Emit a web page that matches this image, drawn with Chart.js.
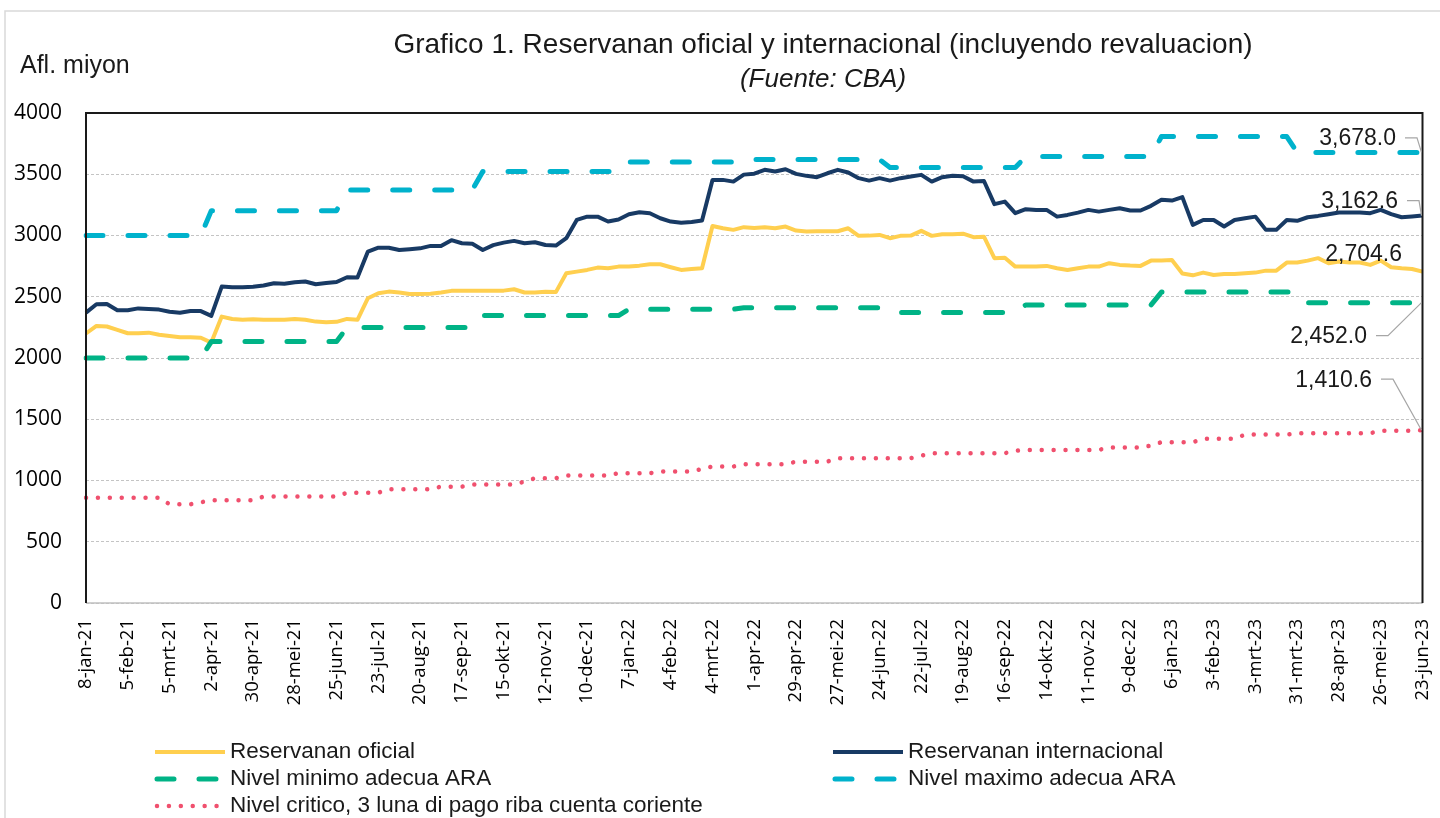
<!DOCTYPE html>
<html>
<head>
<meta charset="utf-8">
<script src="https://cdn.jsdelivr.net/npm/chart.js@4.4.0/dist/chart.umd.min.js"></script>
<style>
  html, body { margin: 0; padding: 0; background: #fff; }
  #wrap { width: 1440px; height: 818px; position: relative; }
</style>
</head>
<body>
<div id="wrap"><canvas id="chart" width="1440" height="818"></canvas></div>
<script>
// weekly dates 8-jan-21 .. 23-jun-23 (129 weeks)
const monthNames = ['jan','feb','mrt','apr','mei','jun','jul','aug','sep','okt','nov','dec'];
const categories = [];
for (let i = 0; i < 129; i++) {
  const d = new Date(Date.UTC(2021, 0, 8) + i * 7 * 86400000);
  categories.push(d.getUTCDate() + '-' + monthNames[d.getUTCMonth()] + '-' + String(d.getUTCFullYear()).slice(2));
}

const yTicks = [0, 500, 1000, 1500, 2000, 2500, 3000, 3500, 4000];

const oficial = [
  2200,2262,2257,2230,2202,2202,2207,2190,2180,2170,
  2170,2165,2126,2338,2318,2312,2316,2313,2312,2312,
  2318,2312,2297,2292,2295,2319,2312,2488,2529,2542,
  2535,2523,2523,2525,2535,2548,2550,2550,2550,2550,
  2550,2561,2535,2534,2540,2538,2692,2705,2719,2738,
  2733,2746,2746,2754,2765,2765,2741,2719,2727,2733,
  3078,3059,3046,3068,3062,3068,3060,3073,3040,3032,
  3035,3035,3035,3059,2997,2999,3005,2978,2997,2999,
  3038,2997,3010,3010,3015,2986,2990,2815,2818,2746,
  2746,2746,2752,2733,2719,2733,2746,2746,2774,2760,
  2755,2752,2795,2795,2800,2690,2675,2697,2678,2686,
  2686,2692,2697,2713,2713,2779,2779,2795,2815,2774,
  2787,2779,2779,2760,2795,2741,2733,2727,2704.6
];

const internacional = [
  2370,2439,2440,2390,2390,2405,2400,2395,2378,2370,
  2384,2383,2344,2583,2577,2578,2582,2592,2610,2606,
  2618,2624,2602,2612,2620,2659,2657,2869,2901,2900,
  2882,2888,2895,2915,2915,2962,2937,2932,2882,2921,
  2942,2956,2937,2945,2922,2918,2978,3127,3154,3154,
  3114,3131,3174,3190,3182,3141,3114,3105,3110,3122,
  3454,3454,3440,3497,3505,3536,3522,3541,3503,3487,
  3476,3508,3536,3514,3468,3448,3468,3448,3468,3481,
  3495,3440,3476,3487,3483,3440,3445,3256,3277,3182,
  3215,3209,3209,3154,3168,3187,3209,3195,3209,3222,
  3204,3204,3242,3291,3285,3313,3087,3127,3127,3073,
  3127,3141,3154,3046,3046,3127,3120,3149,3160,3174,
  3187,3187,3187,3182,3209,3174,3149,3155,3162.6
];

const nivelMinimo = [
  2000,2000,2000,2000,2000,2000,2000,2000,2000,2000,
  2000,2000,2134,2134,2134,2134,2134,2134,2134,2134,
  2134,2134,2134,2134,2134,2248,2248,2248,2248,2248,
  2248,2248,2248,2248,2248,2248,2248,2248,2346,2346,
  2346,2346,2346,2346,2346,2346,2346,2346,2346,2346,
  2346,2346,2398,2398,2398,2398,2398,2398,2398,2398,
  2398,2398,2398,2410,2410,2410,2410,2410,2410,2410,
  2410,2410,2410,2410,2410,2410,2410,2371,2371,2371,
  2371,2371,2371,2371,2371,2371,2371,2371,2371,2371,
  2433,2433,2433,2433,2433,2433,2433,2433,2433,2433,
  2433,2433,2433,2538,2538,2538,2538,2538,2538,2538,
  2538,2538,2538,2538,2538,2538,2538,2452,2452,2452,
  2452,2452,2452,2452,2452,2452,2452,2452,2452.0
];

const nivelMaximo = [
  3000,3000,3000,3000,3000,3000,3000,3000,3000,3000,
  3000,3000,3203,3203,3203,3203,3203,3203,3203,3203,
  3203,3203,3203,3203,3203,3372,3372,3372,3372,3372,
  3372,3372,3372,3372,3372,3372,3372,3372,3522,3522,
  3522,3522,3522,3522,3522,3522,3522,3522,3522,3522,
  3522,3522,3600,3600,3600,3600,3600,3600,3600,3600,
  3600,3600,3600,3620,3620,3620,3620,3620,3620,3620,
  3620,3620,3620,3620,3620,3620,3620,3555,3555,3555,
  3555,3555,3555,3555,3555,3555,3555,3555,3555,3555,
  3644,3644,3644,3644,3644,3644,3644,3644,3644,3644,
  3644,3644,3644,3808,3808,3808,3808,3808,3808,3808,
  3808,3808,3808,3808,3808,3808,3678,3678,3678,3678,
  3678,3678,3678,3678,3678,3678,3678,3678,3678.0
];

const nivelCritico = [
  860,860,860,860,860,860,860,860,806,806,
  806,822,839,839,839,839,839,869,869,869,
  869,869,869,869,869,901,901,901,901,929,
  929,929,929,929,950,950,950,967,967,967,
  967,967,991,1019,1019,1019,1040,1040,1040,1040,
  1040,1060,1060,1060,1060,1073,1073,1073,1073,1095,
  1114,1114,1114,1133,1133,1133,1133,1133,1154,1154,
  1154,1154,1182,1182,1182,1182,1182,1182,1182,1182,
  1203,1223,1223,1223,1223,1223,1223,1223,1223,1242,
  1250,1250,1250,1250,1250,1250,1250,1250,1269,1269,
  1269,1269,1285,1313,1313,1313,1313,1340,1340,1340,
  1340,1375,1375,1375,1375,1375,1386,1386,1386,1386,
  1386,1386,1386,1386,1407,1407,1407,1407,1410.6
];

const seriesNames = [
  'Reservanan oficial',
  'Reservanan internacional',
  'Nivel minimo adecua ARA',
  'Nivel maximo adecua ARA',
  'Nivel critico, 3 luna di pago riba cuenta coriente'
];

const labelFont = '"Liberation Sans", Arial, sans-serif';
const tickFont = '"Open Sans", "Noto Sans", sans-serif';

// styles per series (same order as seriesNames)
const styles = [
  { color: '#FFCF4F', width: 4, dash: [], order: 5 },
  { color: '#183A64', width: 4, dash: [], order: 4 },
  { color: '#00B386', width: 5, dash: [17, 25], order: 3 },
  { color: '#00B2CC', width: 5, dash: [17, 25], order: 2 },
  { color: '#F0506E', width: 4.5, dash: [0.01, 11.9], order: 1 }
];

// end-of-series value labels: right edge / centre offset from last point, with leader line or not
const endLabels = [
  { dx: -20.5, dy: -17, leader: false },
  { dx: -24.5, dy: -14, leader: true },
  { dx: -55.5, dy: 34, leader: true },
  { dx: -26.5, dy: -13.5, leader: true },
  { dx: -50.5, dy: -50, leader: true }
];

// legend placement: [x of sample start, y centre]
const legendSpots = [[155, 752], [833, 752], [155, 779], [833, 779], [155, 806]];

const allData = [oficial, internacional, nivelMinimo, nivelMaximo, nivelCritico];

const decor = {
  id: 'decor',
  beforeDraw(chart) {
    const ctx = chart.ctx;
    ctx.save();
    ctx.fillStyle = '#fff';
    ctx.fillRect(0, 0, chart.width, chart.height);
    ctx.strokeStyle = '#d9d9d9';
    ctx.lineWidth = 1.5;
    ctx.beginPath();
    ctx.moveTo(5, chart.height);
    ctx.lineTo(5, 11);
    ctx.lineTo(chart.width, 11);
    ctx.stroke();
    ctx.restore();
  },
  afterDraw(chart) {
    const ctx = chart.ctx;
    const a = chart.chartArea;
    ctx.save();

    // plot frame
    ctx.strokeStyle = '#bfbfbf';
    ctx.lineWidth = 1.5;
    ctx.beginPath();
    ctx.moveTo(a.left, a.bottom);
    ctx.lineTo(a.right, a.bottom);
    ctx.stroke();
    ctx.strokeStyle = '#1a1a1a';
    ctx.lineWidth = 2;
    ctx.beginPath();
    ctx.moveTo(a.left, a.bottom);
    ctx.lineTo(a.left, a.top);
    ctx.lineTo(a.right, a.top);
    ctx.lineTo(a.right, a.bottom);
    ctx.stroke();

    // titles
    ctx.fillStyle = '#1a1a1a';
    ctx.textBaseline = 'middle';
    ctx.textAlign = 'center';
    ctx.font = '28px ' + labelFont;
    ctx.fillText('Grafico 1. Reservanan oficial y internacional (incluyendo revaluacion)', 823, 45);
    ctx.font = 'italic 26px ' + labelFont;
    ctx.fillText('(Fuente: CBA)', 823, 80);
    ctx.textAlign = 'left';
    ctx.font = '25px ' + labelFont;
    ctx.fillText('Afl. miyon', 20, 66);

    // end labels
    ctx.font = '23px ' + labelFont;
    chart.data.datasets.forEach((ds, i) => {
      const pts = chart.getDatasetMeta(i).data;
      const p = pts[pts.length - 1];
      const cfg = endLabels[i];
      const right = p.x + cfg.dx;
      const cy = p.y + cfg.dy;
      const val = ds.data[ds.data.length - 1];
      ctx.fillStyle = '#1a1a1a';
      ctx.textAlign = 'right';
      ctx.fillText(val.toLocaleString('en-US', { minimumFractionDigits: 1, maximumFractionDigits: 1 }), right, cy);
      if (cfg.leader) {
        ctx.strokeStyle = '#a6a6a6';
        ctx.lineWidth = 1.2;
        ctx.beginPath();
        ctx.moveTo(right + 9, cy - 1);
        ctx.lineTo(right + 21, cy - 1);
        ctx.lineTo(p.x - 1, p.y);
        ctx.stroke();
      }
    });

    // legend
    ctx.font = '22.5px ' + labelFont;
    ctx.textAlign = 'left';
    seriesNames.forEach((name, i) => {
      const st = styles[i];
      const [x, y] = legendSpots[i];
      ctx.strokeStyle = st.color;
      ctx.lineWidth = st.width;
      ctx.lineCap = st.dash.length ? 'round' : 'butt';
      ctx.setLineDash(st.dash);
      ctx.beginPath();
      ctx.moveTo(x + (st.dash.length ? 2 : 0), y);
      ctx.lineTo(x + 70, y);
      ctx.stroke();
      ctx.setLineDash([]);
      ctx.fillStyle = '#1a1a1a';
      ctx.fillText(name, x + 75, y);
    });
    ctx.restore();
  }
};

new Chart(document.getElementById('chart').getContext('2d'), {
  type: 'line',
  data: {
    labels: categories,
    datasets: allData.map((d, i) => ({
      label: seriesNames[i],
      data: d,
      borderColor: styles[i].color,
      backgroundColor: styles[i].color,
      borderWidth: styles[i].width,
      borderDash: styles[i].dash,
      borderCapStyle: styles[i].dash.length ? 'round' : 'butt',
      borderJoinStyle: 'round',
      pointRadius: 0,
      tension: 0,
      fill: false,
      order: styles[i].order
    }))
  },
  options: {
    responsive: false,
    devicePixelRatio: 1,
    animation: false,
    events: [],
    layout: { padding: { top: 113, right: 17.5, left: 0, bottom: 0 } },
    plugins: {
      legend: { display: false },
      tooltip: { enabled: false },
      title: { display: false }
    },
    scales: {
      x: {
        grid: { display: false },
        border: { display: false },
        afterFit(scale) {
          scale.height = 215;
          scale.paddingLeft = 0;
          scale.paddingRight = 0;
        },
        ticks: {
          autoSkip: false,
          maxRotation: 90,
          minRotation: 90,
          padding: 8,
          color: '#000',
          font: { family: tickFont, size: 18.5 },
          callback(value, index) {
            return index % 4 === 0 ? this.getLabelForValue(value) : '';
          }
        }
      },
      y: {
        min: 0,
        max: 4000,
        afterFit(scale) { scale.width = 86; },
        afterBuildTicks(scale) { scale.ticks = yTicks.map(v => ({ value: v })); },
        grid: { color: '#c4c4c4', lineWidth: 1, drawTicks: false },
        border: { display: false, dash: [3, 2] },
        ticks: {
          padding: 24,
          color: '#000',
          font: { family: tickFont, size: 21 },
          callback(value) { return String(value); }
        }
      }
    }
  },
  plugins: [decor]
});
</script>
</body>
</html>
